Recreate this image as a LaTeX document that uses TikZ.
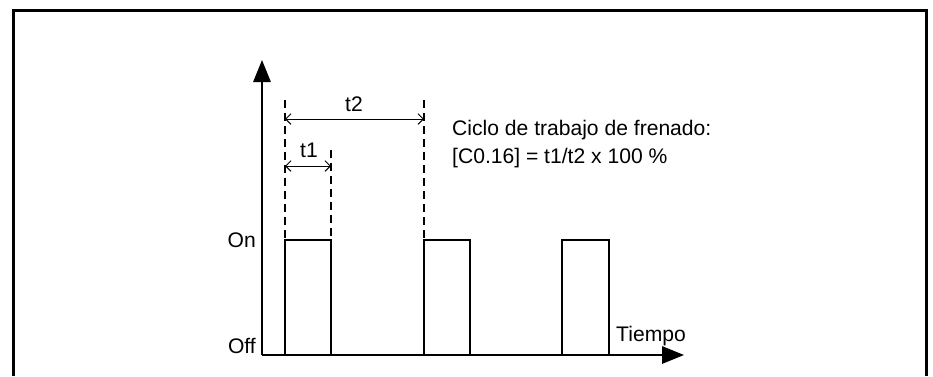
\documentclass[tikz,border=0pt]{standalone}
\usepackage{fontspec}
\setmainfont{Liberation Sans}
\usetikzlibrary{arrows.meta,positioning}
\tikzset{
	ejeSenal/.style={
		line width=0.6mm,
		-{Triangle[length=6.6mm,width=5.2mm]}
	},
	pulsoSenal/.style={
		line width=0.6mm
	},
	guiaCota/.style={
		line width=0.4mm,
		dash pattern=on 2.4mm off 1.5mm
	},
	flechaCota/.style={
		line width=0.3mm,
		{Straight Barb[length=1.6mm,width=3.2mm]}-{Straight Barb[length=1.6mm,width=3.2mm]}
	},
	textoSenal/.style={
		inner sep=0pt,
		font=\fontsize{18}{22}\selectfont
	}
}
\begin{document}
\begin{tikzpicture}[x=0.3mm, y=-0.3mm]
		\useasboundingbox (0,0) rectangle (933,376);
		% marco
		\draw[line width=0.9mm] (13,376) -- (13,10) -- (926,10) -- (926,376);
		% ejes
		\coordinate (origen) at (262,355);
		\coordinate (finY) at (262,60);
		\coordinate (finX) at (684,355);
		\draw[ejeSenal] (origen) -- (finY);
		\draw[ejeSenal] (origen) -- (finX);
		% pulsos
		\foreach \xa/\xb in {285/331,424/470,562/609}{
			\draw[pulsoSenal] (\xa,355) -- (\xa,240) -- (\xb,240) -- (\xb,355);
		}
		% lineas de cota
		\coordinate (guiaA) at (285,100);
		\coordinate (guiaB) at (331,150);
		\coordinate (guiaC) at (424,100);
		\draw[guiaCota] (guiaA) -- (285,240);
		\draw[guiaCota] (guiaB) -- (331,240);
		\draw[guiaCota] (guiaC) -- (424,240);
		\coordinate (cotaT2a) at (285,119);
		\coordinate (cotaT2b) at (424,119);
		\coordinate (cotaT1a) at (285,166);
		\coordinate (cotaT1b) at (331,166);
		\draw[flechaCota] (cotaT2a) -- (cotaT2b);
		\draw[flechaCota] (cotaT1a) -- (cotaT1b);
		\node[textoSenal] (etiqT2) at (354,104) {t2};
		\node[textoSenal] (etiqT1) at (309,150) {t1};
		% textos
		\node[textoSenal, anchor=east] (etiqOn) at (256,240) {On};
		\node[textoSenal, anchor=east] (etiqOff) at (256,346) {Off};
		\node[textoSenal, anchor=west] (etiqTiempo) at (616,336) {Tiempo};
		\node[textoSenal, anchor=west] (cicloTxt) at (452,130) {Ciclo de trabajo de frenado:};
		\node[textoSenal, anchor=west] (formulaTxt) at (452,158) {[C0.16] = t1/t2 x 100 \%};
	\end{tikzpicture}
\end{document}
